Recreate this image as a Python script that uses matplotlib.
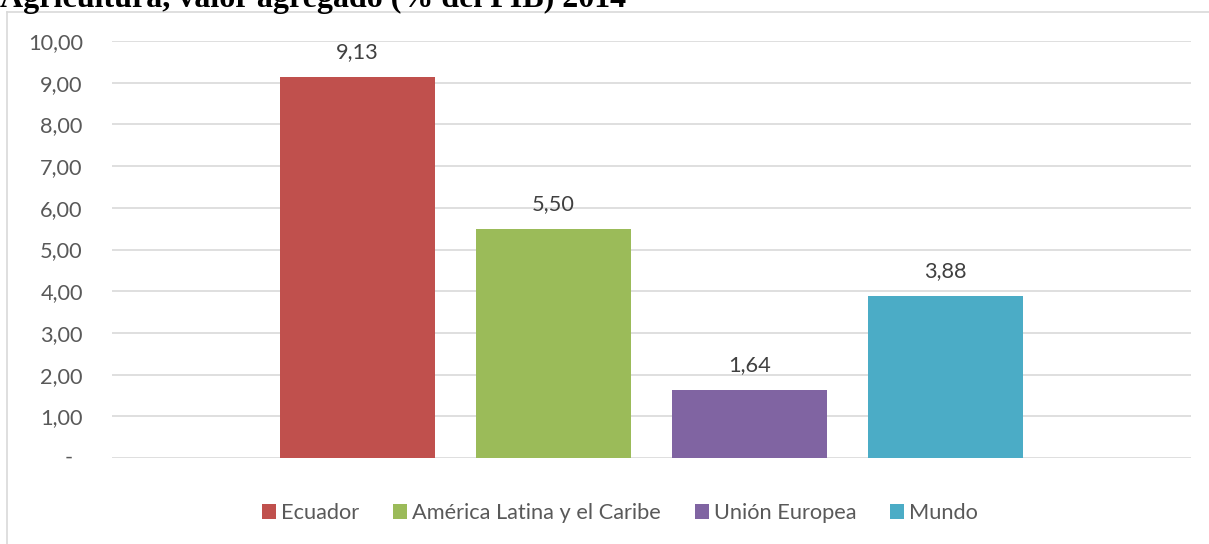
import matplotlib

matplotlib.use("Agg")
import matplotlib.pyplot as plt
from matplotlib.lines import Line2D

# datos
regiones = ["Ecuador", "América Latina y el Caribe", "Unión Europea", "Mundo"]
valores = [9.13, 5.50, 1.64, 3.88]
colores = ["#C0504D", "#9BBB59", "#8064A2", "#4BACC6"]
ticks_y = [0, 1, 2, 3, 4, 5, 6, 7, 8, 9, 10]
titulo = "Agricultura, valor agregado (% del PIB) 2014"


def _fmt(v):
    if v == 0:
        return ""
    return f"{v:.2f}".replace(".", ",")


W, H = 1209, 544
TAM = 15.7
fig = plt.figure(figsize=(W / 100, H / 100), dpi=100)
fig.patch.set_facecolor("white")

# marco del area del grafico
fig.add_artist(Line2D([7 / W, 7 / W], [0, 1 - 12 / H], color="#d9d9d9", lw=1.2))
fig.add_artist(Line2D([7 / W, 1], [1 - 12 / H, 1 - 12 / H], color="#d9d9d9", lw=1.2))

fig.text(0, 1 - 7 / H, titulo, family="Liberation Serif", fontweight="bold",
         fontsize=23, va="baseline", ha="left", color="black")

ax = fig.add_axes([112 / W, 1 - 458 / H, (1191 - 112) / W, (458 - 41) / H])
pos = list(range(len(valores)))
barras = ax.bar(pos, valores, width=0.79, color=colores, zorder=3)

ax.set_xlim(1.5 - 2.753, 1.5 + 2.753)
ax.set_ylim(0, 10)
ax.set_yticks(ticks_y)
ax.set_yticklabels([_fmt(t) for t in ticks_y], family="Lato", fontsize=TAM, color="#595959")
ax.set_xticks([])
ax.tick_params(axis="y", length=0, pad=21)
for s in ax.spines.values():
    s.set_visible(False)
ax.grid(axis="y", color="#d9d9d9", lw=1.2, zorder=0)
ax.set_axisbelow(True)

# el cero se muestra como guion (formato contable)
ax.annotate("-", (0, 0), xycoords=("axes fraction", "data"), xytext=(-28, 0),
            textcoords="offset points", ha="right", va="center",
            family="Lato", fontsize=TAM, color="#595959", annotation_clip=False)

for barra, v in zip(barras, valores):
    ax.annotate(_fmt(v), (barra.get_x() + barra.get_width() / 2, v),
                xytext=(0, 18), textcoords="offset points", ha="center", va="center",
                family="Lato", fontsize=TAM, color="#404040")

fig.legend(barras, regiones, loc="center", bbox_to_anchor=(620 / W, 1 - 513 / H),
           ncol=4, frameon=False, handlelength=0.64, handleheight=0.64,
           handletextpad=0.23, columnspacing=1.55,
           prop={"family": "Lato", "size": TAM}, labelcolor="#595959")

fig.savefig("out.png", dpi=100)
